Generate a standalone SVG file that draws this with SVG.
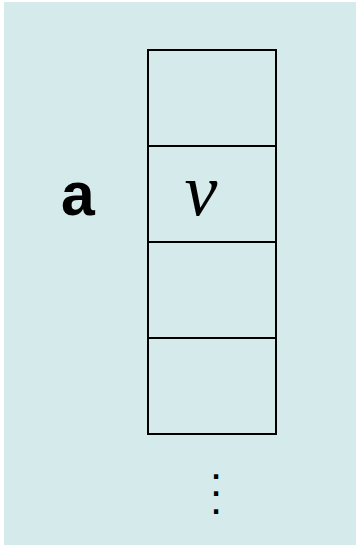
<svg xmlns="http://www.w3.org/2000/svg" width="356" height="545" viewBox="0 0 356 545">
<style>
.cell{fill:none;stroke:#000;stroke-width:2}
.lbl{font-family:"Liberation Mono","Courier New",monospace;font-weight:bold;font-size:62px;fill:#000}
.val{font-family:"Liberation Serif","Times New Roman",serif;font-style:italic;font-size:74px;fill:#000}
.dots{font-family:"DejaVu Sans",sans-serif;font-weight:bold;font-size:24px;fill:#000}
</style>
<rect x="4" y="2" width="352" height="543" fill="#d5eaeb"/>
<g id="label-a"><text class="lbl" x="78" y="215" text-anchor="middle">a</text></g>
<g id="cell0"><rect class="cell" x="148" y="50" width="128" height="96"/></g>
<g id="cell1"><rect class="cell" x="148" y="146" width="128" height="96"/><text class="val" x="201" y="215" text-anchor="middle">v</text></g>
<g id="cell2"><rect class="cell" x="148" y="242" width="128" height="96"/></g>
<g id="cell3"><rect class="cell" x="148" y="338" width="128" height="96"/></g>
<g id="ellipsis"><text class="dots" text-anchor="middle"><tspan x="216" y="478.5">.</tspan><tspan x="216" y="496">.</tspan><tspan x="216" y="514">.</tspan></text></g>
<g id="connectors"/>
</svg>
